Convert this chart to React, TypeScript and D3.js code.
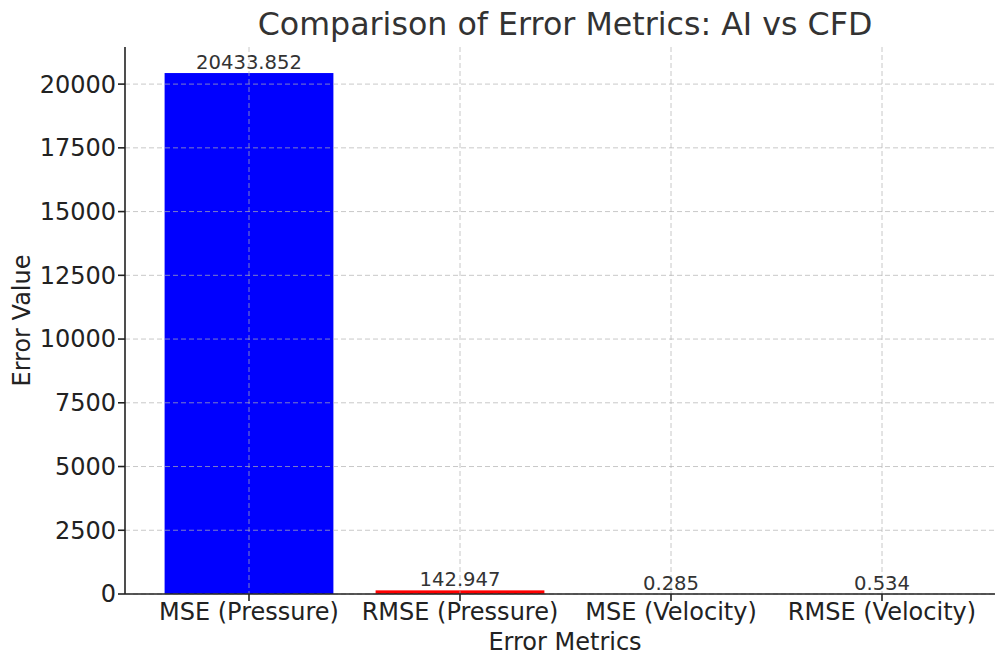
import React from "react";
import * as d3 from "d3";

const categories = ["MSE (Pressure)", "RMSE (Pressure)", "MSE (Velocity)", "RMSE (Velocity)"];
const values = [20433.852, 142.947, 0.285, 0.534];
const valueLabels = ["20433.852", "142.947", "0.285", "0.534"];
const colors = ["blue", "red", "green", "orange"];
const yTicks = [0, 2500, 5000, 7500, 10000, 12500, 15000, 17500, 20000];

const W = 995;
const H = 655;
const left = 125;
const bottom = 594;
const top = 47;

export default function App() {
  const step = 211;
  const x0 = 249;
  const xLin = d3.scaleLinear().domain([0, 1]).range([x0, x0 + step]);
  const x = d3
    .scaleBand<string>()
    .domain(categories)
    .range([xLin(-0.5), xLin(3.5)])
    .paddingInner(0.2)
    .paddingOuter(0.1);
  const yMax = d3.max(values)! * 1.05;
  const y = d3.scaleLinear().domain([0, yMax]).range([bottom, top]);
  const right = xLin(3.59);
  const font = "'DejaVu Sans', sans-serif";
  const centers = categories.map((c) => x(c)! + x.bandwidth() / 2);

  return (
    <svg width={W} height={H} style={{ position: "absolute", left: 0, top: 0, background: "white" }} fontFamily={font}>
      <rect x={0} y={0} width={W} height={H} fill="white" />
      {categories.map((c, i) => (
        <rect
          key={c}
          x={x(c)}
          y={y(values[i])}
          width={x.bandwidth()}
          height={bottom - y(values[i])}
          fill={colors[i]}
        />
      ))}
      {/* grid */}
      {yTicks.map((t) => (
        <line key={"gy" + t} x1={left} x2={right} y1={y(t)} y2={y(t)} stroke="#b0b0b0" strokeOpacity={0.7} strokeDasharray="5,3" strokeWidth={1} />
      ))}
      {centers.map((cx, i) => (
        <line key={"gx" + i} x1={cx} x2={cx} y1={top} y2={bottom} stroke="#b0b0b0" strokeOpacity={0.7} strokeDasharray="5,3" strokeWidth={1} />
      ))}
      {/* value labels */}
      {categories.map((c, i) => (
        <text key={"v" + c} x={centers[i]} y={y(values[i]) - 4} textAnchor="middle" fontSize={19.6} fill="#333">
          {valueLabels[i]}
        </text>
      ))}
      {/* spines */}
      <line x1={left} x2={left} y1={top} y2={bottom} stroke="#222" strokeWidth={1.6} />
      <line x1={left} x2={right} y1={bottom} y2={bottom} stroke="#222" strokeWidth={1.6} />
      {/* y ticks */}
      {yTicks.map((t) => (
        <g key={"ty" + t}>
          <line x1={left - 7} x2={left} y1={y(t)} y2={y(t)} stroke="#222" strokeWidth={1.6} />
          <text x={left - 9} y={y(t)} dy="0.35em" textAnchor="end" fontSize={24} fill="#222">
            {t}
          </text>
        </g>
      ))}
      {/* x ticks */}
      {categories.map((c, i) => (
        <g key={"tx" + c}>
          <line x1={centers[i]} x2={centers[i]} y1={bottom} y2={bottom + 7} stroke="#222" strokeWidth={1.6} />
          <text x={centers[i]} y={bottom + 26} textAnchor="middle" fontSize={24} fill="#222">
            {c}
          </text>
        </g>
      ))}
      <text x={565} y={650} textAnchor="middle" fontSize={24} fill="#222">
        Error Metrics
      </text>
      <text transform={`translate(30, ${(top + bottom) / 2}) rotate(-90)`} textAnchor="middle" fontSize={24} fill="#222">
        Error Value
      </text>
      <text x={565} y={35} textAnchor="middle" fontSize={31.7} fill="#333">
        Comparison of Error Metrics: AI vs CFD
      </text>
    </svg>
  );
}
